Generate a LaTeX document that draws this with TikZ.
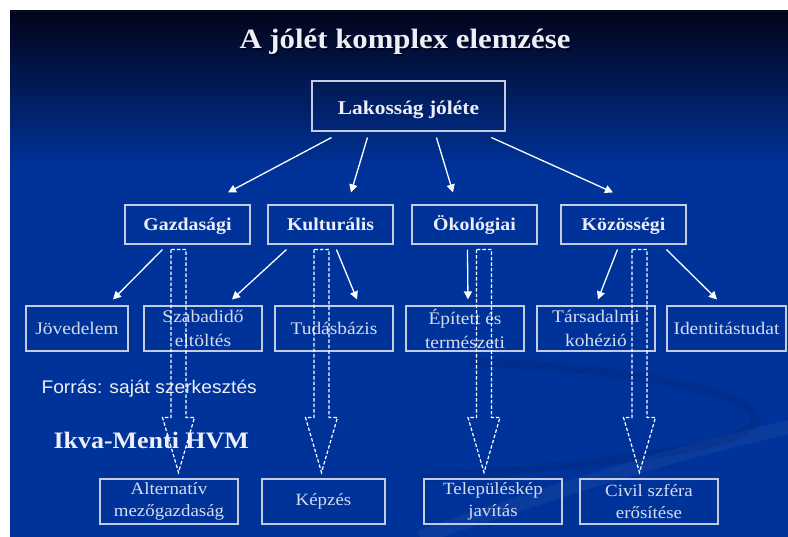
\documentclass[tikz,border=0pt]{standalone}
\usepackage{fontspec}
\setmainfont{Liberation Serif}[FakeStretch=1.1]
\setsansfont{Liberation Sans}[FakeStretch=1.05]
\usetikzlibrary{calc,arrows.meta}

\definecolor{slideblue}{HTML}{00339A}
\definecolor{slidetop}{HTML}{02041A}
\definecolor{inktext}{HTML}{EEEEF8}
\definecolor{softtext}{HTML}{D6DBEE}
\definecolor{frame}{HTML}{C4CCE4}
\definecolor{swoosh}{HTML}{002A80}

\tikzset{
  box/.style={draw=frame, line width=1.1pt, inner sep=1pt, align=center,
              text=softtext, font=\fontsize{17.7}{24}\selectfont},
  topbox/.style={box, text=inktext, text height=18pt, text depth=0pt,
                 font=\bfseries\fontsize{19.5}{23}\selectfont},
  midbox/.style={box, text=inktext, minimum width=125pt, minimum height=39pt,
                 text height=13pt, text depth=0pt,
                 font=\bfseries\fontsize{18}{22}\selectfont},
  leafbox/.style={box, minimum height=45pt},
  goalbox/.style={box, minimum height=45pt, font=\fontsize{17.2}{22}\selectfont},
  link/.style={white, line width=1.3pt, -{Triangle[length=8pt,width=8pt]}},
  hollow/.style={white, line width=1.2pt, dash pattern=on 3.5pt off 2pt},
}

% hollow dashed block arrow: #1 = top of the shaft, #2 = tip
\newcommand\hollowarrow[2]{%
  \draw[hollow] let \p1=#1, \p2=#2 in
    (\x2-7.5pt,\y1) -- (\x2-7.5pt,\y2+55pt) -- (\x2-16pt,\y2+55pt) --
    (\x2,\y2) -- (\x2+16pt,\y2+55pt) -- (\x2+7.5pt,\y2+55pt) --
    (\x2+7.5pt,\y1) -- cycle;}

\begin{document}
\begin{tikzpicture}[x=1pt,y=-1pt]
\useasboundingbox (0,0) rectangle (788,537);
\fill[white] (0,0) rectangle (788,537);

% slide background
\fill[slideblue] (10,11) rectangle (788,537);
\shade[top color=slidetop, bottom color=slideblue] (10,11) rectangle (788,170);
\draw[blue!60!black, line width=0.8pt] (10,11.4) -- (788,11.4);

% faint swoosh in the lower right
\begin{scope}
  \clip (10,11) rectangle (788,537);
  \draw[swoosh, line width=9pt, opacity=0.45]
    (470,362) .. controls (640,368) and (760,395) .. (755,420)
    .. controls (748,448) and (600,465) .. (420,478);
  \draw[white, line width=14pt, opacity=0.04]
    (420,537) .. controls (560,490) and (680,450) .. (800,425);
\end{scope}

% title
\node[text=black, opacity=0.6, font=\bfseries\fontsize{28}{32}\selectfont]
  at (406.5,43.5) {A jólét komplex elemzése};
\node (title) [text=inktext, font=\bfseries\fontsize{28}{32}\selectfont]
  at (405,42) {A jólét komplex elemzése};

% top node
\node (L) [topbox, minimum width=193pt, minimum height=50pt] at (408.5,106) {Lakosság jóléte};

% dimensions
\node (G)  [midbox] at (187.5,224.5) {Gazdasági};
\node (K)  [midbox] at (330.5,224.5) {Kulturális};
\node (O)  [midbox] at (474.5,224.5) {Ökológiai};
\node (Kz) [midbox] at (623.5,224.5) {Közösségi};

% components
\node (J)  [leafbox, minimum width=102pt] at (77,328.5)   {Jövedelem};
\node (Sz) [leafbox, minimum width=118pt] at (203,328.5)  {Szabadidő\\eltöltés};
\node (T)  [leafbox, minimum width=118pt] at (334,328.5)  {Tudásbázis};
\node (E)  [leafbox, minimum width=118pt] at (465,328.5)  {Épített és\\természeti};
\node (Ta) [leafbox, minimum width=118pt] at (596,328.5)  {Társadalmi\\kohézió};
\node (I)  [leafbox, minimum width=119pt] at (726.5,328.5){Identitástudat};

% actions
\node (A)  [goalbox, minimum width=138pt] at (169,501.5)   {Alternatív\\mezőgazdaság};
\node (Kp) [goalbox, minimum width=123pt] at (323.5,501.5) {Képzés};
\node (Tk) [goalbox, minimum width=138pt] at (493,501.5)   {Településkép\\javítás};
\node (C)  [goalbox, minimum width=138pt] at (649,501.5)   {Civil szféra\\erősítése};

% side texts
\node (src) [anchor=west, text=inktext, font=\sffamily\fontsize{18.3}{21}\selectfont]
  at (38,389) {Forrás: saját szerkesztés};
\node (hvm) [anchor=west, text=inktext, font=\bfseries\fontsize{23.6}{27}\selectfont]
  at (50,440) {Ikva-Menti HVM};

% first level links
\draw[link] ($(L.south west)+(20,6)$)  -- ($(G.north)+(40.5,-12)$);
\draw[link] ($(L.south west)+(56,6)$)  -- ($(K.north)+(20.5,-12)$);
\draw[link] ($(L.south west)+(125,6)$) -- ($(O.north)+(-21.5,-12)$);
\draw[link] ($(L.south west)+(180,6)$) -- ($(Kz.north)+(-10.5,-12)$);

% second level links
\draw[link] ($(G.south west)+(38,5)$)   -- ($(J.north)+(36,-6)$);
\draw[link] ($(K.south west)+(19,5)$)   -- ($(Sz.north)+(29,-6)$);
\draw[link] ($(K.south west)+(69,5)$)   -- ($(T.north)+(23,-6)$);
\draw[link] ($(O.south west)+(56,5)$)   -- ($(E.north)+(3,-6)$);
\draw[link] ($(Kz.south west)+(57,5)$)  -- ($(Ta.north)+(2,-6)$);
\draw[link] ($(Kz.south west)+(106,5)$) -- ($(I.north)+(-9.5,-6)$);

% dashed block arrows to the actions
\hollowarrow{($(G.south)+(0,5)$)}{($(A.north)+(9.5,-6)$)}
\hollowarrow{($(K.south)+(0,5)$)}{($(Kp.north)+(-2,-6)$)}
\hollowarrow{($(O.south)+(0,5)$)}{($(Tk.north)+(-9,-6)$)}
\hollowarrow{($(Kz.south)+(0,5)$)}{($(C.north)+(-9.5,-6)$)}
\end{tikzpicture}
\end{document}
